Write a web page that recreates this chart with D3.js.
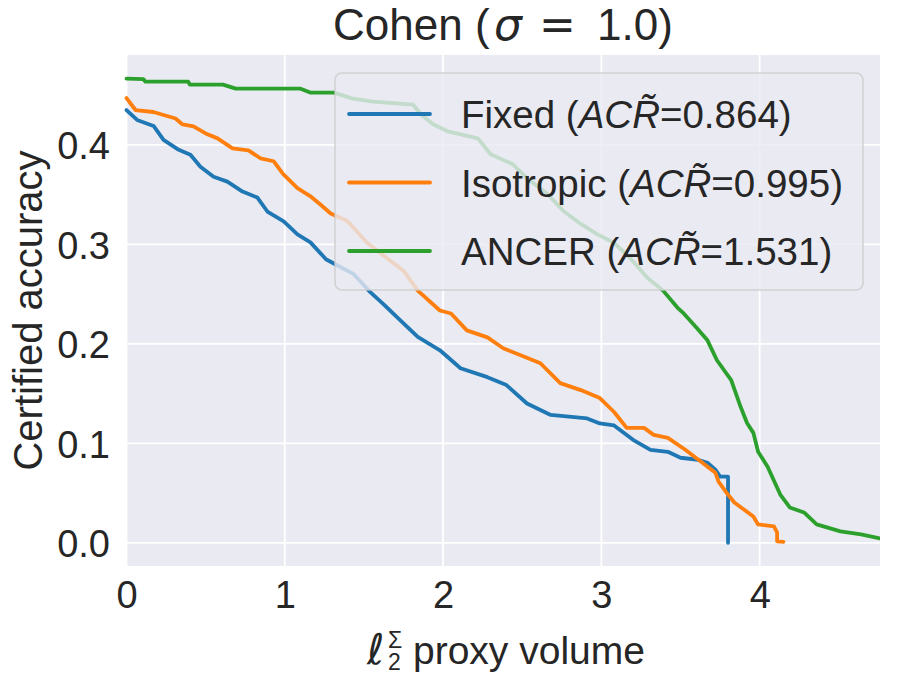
<!DOCTYPE html>
<html>
<head>
<meta charset="utf-8">
<script src="https://cdn.jsdelivr.net/npm/d3@7"></script>
<style>
  body { margin: 0; background: #fff; }
  svg text { font-family: "Liberation Sans", Arial, sans-serif; fill: #262626; }
</style>
</head>
<body>
<svg id="chart" width="899" height="675"></svg>
<script>
// values
var xTicks = [0, 1, 2, 3, 4];
var yTicks = [0.0, 0.1, 0.2, 0.3, 0.4];
var seriesNames = ['Fixed', 'Isotropic', 'ANCER'];
var seriesAcr = ['0.864', '0.995', '1.531'];
var seriesColors = ['#1f77b4', '#ff7f0e', '#2ca02c'];

var fixedX = [0, 0.067, 0.171, 0.234, 0.33, 0.404, 0.467, 0.55, 0.637, 0.733, 0.827, 0.89, 0.993, 1.08, 1.162, 1.26, 1.33, 1.436, 1.54, 1.623, 1.73, 1.84, 1.98, 2.11, 2.28, 2.40, 2.53, 2.68, 2.91, 2.99, 3.08, 3.20, 3.31, 3.42, 3.50, 3.61, 3.67, 3.72, 3.75, 3.80, 3.80];
var fixedY = [0.435, 0.425, 0.419, 0.405, 0.395, 0.390, 0.378, 0.368, 0.363, 0.353, 0.347, 0.333, 0.323, 0.310, 0.302, 0.285, 0.279, 0.270, 0.252, 0.240, 0.2235, 0.207, 0.1935, 0.1755, 0.1665, 0.1585, 0.140, 0.1285, 0.125, 0.120, 0.118, 0.1035, 0.0935, 0.0915, 0.0855, 0.0835, 0.0805, 0.0735, 0.0665, 0.0665, 0.0];

var isoX = [0, 0.057, 0.17, 0.234, 0.31, 0.354, 0.423, 0.50, 0.575, 0.67, 0.77, 0.846, 0.93, 0.99, 1.08, 1.16, 1.225, 1.29, 1.395, 1.52, 1.65, 1.75, 1.84, 1.98, 2.05, 2.15, 2.28, 2.38, 2.49, 2.615, 2.74, 2.87, 2.99, 3.08, 3.16, 3.27, 3.33, 3.42, 3.53, 3.63, 3.72, 3.74, 3.79, 3.84, 3.90, 3.96, 3.99, 4.09, 4.11, 4.11, 4.15];
var isoY = [0.447, 0.435, 0.433, 0.430, 0.4265, 0.4205, 0.4185, 0.4115, 0.4065, 0.3965, 0.3945, 0.3865, 0.3835, 0.3705, 0.3565, 0.3485, 0.340, 0.331, 0.3235, 0.3015, 0.2855, 0.2735, 0.2535, 0.2335, 0.2305, 0.2135, 0.2065, 0.1955, 0.1885, 0.1805, 0.1605, 0.1535, 0.1455, 0.1315, 0.1155, 0.1155, 0.1085, 0.1055, 0.0935, 0.0815, 0.0705, 0.0615, 0.0505, 0.0405, 0.0335, 0.0265, 0.0185, 0.0165, 0.0105, 0.0015, 0.001];

var ancerX = [0, 0.107, 0.12, 0.39, 0.40, 0.61, 0.69, 1.10, 1.16, 1.31, 1.43, 1.56, 1.81, 1.86, 1.94, 2.03, 2.22, 2.30, 2.44, 2.53, 2.66, 2.76, 2.87, 2.97, 3.08, 3.18, 3.29, 3.39, 3.48, 3.52, 3.60, 3.67, 3.73, 3.82, 3.88, 3.92, 3.96, 3.99, 4.05, 4.13, 4.19, 4.28, 4.36, 4.51, 4.64, 4.76];
var ancerY = [0.4665, 0.466, 0.4635, 0.4635, 0.4605, 0.4605, 0.4565, 0.4565, 0.4525, 0.4525, 0.4465, 0.4435, 0.4405, 0.4305, 0.4205, 0.4135, 0.4065, 0.3905, 0.3805, 0.3665, 0.3505, 0.3335, 0.3205, 0.3105, 0.3015, 0.2865, 0.2665, 0.2535, 0.2365, 0.2305, 0.2165, 0.2035, 0.1835, 0.1635, 0.1365, 0.1205, 0.1105, 0.0915, 0.0765, 0.0485, 0.0355, 0.0305, 0.0185, 0.0115, 0.0085, 0.0045];

var margin = {top: 55, right: 19, bottom: 109, left: 126.5},
    width = 899 - margin.left - margin.right,
    height = 675 - margin.top - margin.bottom;

var svg = d3.select('#chart');
var g = svg.append('g').attr('transform', 'translate(' + margin.left + ',' + margin.top + ')');

var x = d3.scaleLinear().domain([0, 4.76]).range([0, width]);
var y = d3.scaleLinear().domain([-0.0233, 0.4903]).range([height, 0]);

g.append('rect')
    .attr('width', width)
    .attr('height', height)
    .attr('fill', '#eaeaf2');

// grid
g.append('g').selectAll('line').data(xTicks).enter().append('line')
    .attr('x1', d => x(d)).attr('x2', d => x(d))
    .attr('y1', 0).attr('y2', height)
    .attr('stroke', '#fff').attr('stroke-width', 1.8);
g.append('g').selectAll('line').data(yTicks).enter().append('line')
    .attr('x1', 0).attr('x2', width)
    .attr('y1', d => y(d)).attr('y2', d => y(d))
    .attr('stroke', '#fff').attr('stroke-width', 1.8);

// axes, no tick marks, only labels
var xAxis = g.append('g')
    .attr('transform', 'translate(0,' + height + ')')
    .call(d3.axisBottom(x).tickValues(xTicks).tickFormat(d3.format('d')).tickSize(0).tickPadding(0));
xAxis.select('.domain').remove();
xAxis.selectAll('text')
    .attr('dy', null)
    .attr('y', 42)
    .style('font-size', '38px')
    .style('font-family', '"Liberation Sans", Arial, sans-serif')
    .attr('fill', '#262626');

var yAxis = g.append('g')
    .call(d3.axisLeft(y).tickValues(yTicks).tickFormat(d3.format('.1f')).tickSize(0).tickPadding(0));
yAxis.select('.domain').remove();
yAxis.selectAll('text')
    .attr('dy', '0.36em')
    .attr('x', -16.5)
    .style('font-size', '38px')
    .style('font-family', '"Liberation Sans", Arial, sans-serif')
    .attr('fill', '#262626');

// curves
var line = d3.line()
    .x(d => x(d[0]))
    .y(d => y(d[1]));

var series = [d3.zip(fixedX, fixedY), d3.zip(isoX, isoY), d3.zip(ancerX, ancerY)];
g.append('defs').append('clipPath').attr('id', 'clip')
    .append('rect').attr('x', -3).attr('y', -3).attr('width', width + 3).attr('height', height + 6);
series.forEach((s, i) => {
    g.append('path')
        .datum(s)
        .attr('d', line)
        .attr('fill', 'none')
        .attr('stroke', seriesColors[i])
        .attr('stroke-width', 3.8)
        .attr('stroke-linejoin', 'round')
        .attr('stroke-linecap', 'round')
        .attr('clip-path', 'url(#clip)');
});

// legend
var leg = svg.append('g').attr('transform', 'translate(335,73)');
leg.append('rect')
    .attr('width', 528).attr('height', 217)
    .attr('rx', 7).attr('ry', 7)
    .attr('fill', '#eaeaf2').attr('fill-opacity', 0.8)
    .attr('stroke', '#cccccc').attr('stroke-opacity', 0.8).attr('stroke-width', 1.6);
seriesNames.forEach((name, i) => {
    var ly = 41 + i * 68.5;
    leg.append('line')
        .attr('x1', 14).attr('x2', 95)
        .attr('y1', ly).attr('y2', ly)
        .attr('stroke', seriesColors[i]).attr('stroke-width', 3.8)
        .attr('stroke-linecap', 'round');
    var t = leg.append('text')
        .attr('x', 126).attr('y', ly + 14)
        .style('font-size', '38.5px');
    t.append('tspan').text(name + ' (');
    t.append('tspan').style('font-style', 'italic').text('ACR\u0303');
    t.append('tspan').text('=' + seriesAcr[i] + ')');
});

// title: Cohen (sigma = 1.0)
var title = svg.append('g').attr('transform', 'translate(0,40)').style('font-size', '44px');
title.append('text').attr('x', 333).text('Cohen (');
title.append('text').attr('x', 494).style('font-style', 'italic')
    .style('font-family', '"DejaVu Sans", sans-serif').text('\u03c3');
title.append('text').attr('x', 539)
    .style('font-family', '"DejaVu Sans", sans-serif').text('=');
title.append('text').attr('x', 597).text('1.0)');

// y label
svg.append('text')
    .attr('transform', 'translate(42,' + (margin.top + height / 2) + ') rotate(-90)')
    .attr('text-anchor', 'middle')
    .style('font-size', '40px')
    .text('Certified accuracy');

// x label: l_2^Sigma proxy volume
var xl = svg.append('g').attr('transform', 'translate(362,664)');
xl.append('text').attr('x', 5).attr('y', 0)
    .style('font-size', '42px').style('font-style', 'italic')
    .style('font-family', '"DejaVu Sans", sans-serif').text('\u2113');
xl.append('text').attr('x', 26).attr('y', -16)
    .style('font-size', '23px').text('\u03a3');
xl.append('text').attr('x', 26).attr('y', 6)
    .style('font-size', '23px').text('2');
xl.append('text').attr('x', 51).attr('y', 0)
    .style('font-size', '39px').text('proxy volume');
</script>
</body>
</html>
